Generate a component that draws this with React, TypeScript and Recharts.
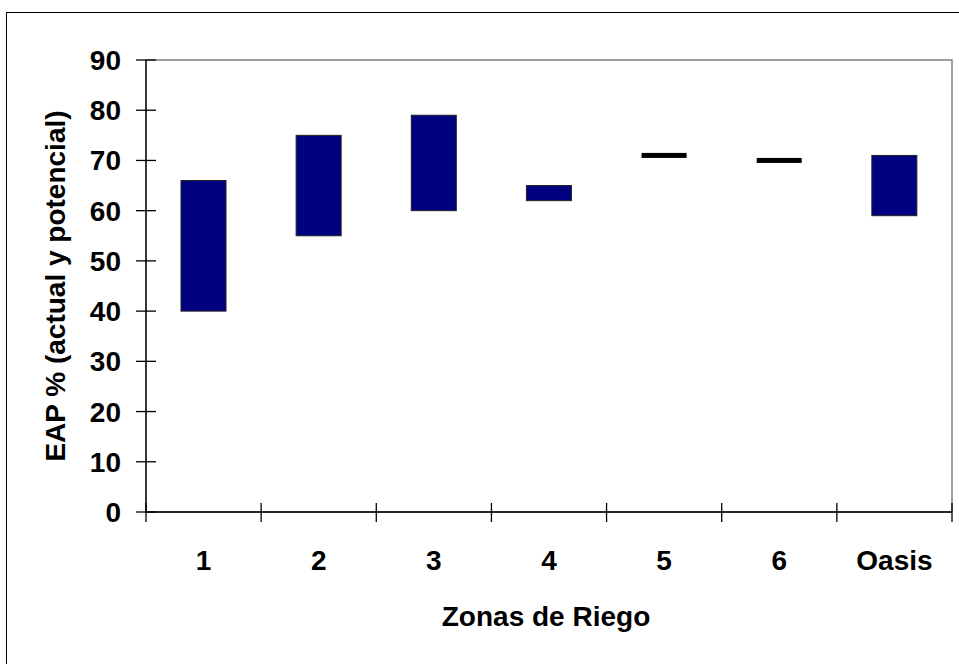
import { BarChart, Bar, XAxis, YAxis, ReferenceArea, Label } from "recharts";

const zonas = ["1", "2", "3", "4", "5", "6", "Oasis"];
const eapActual = [40, 55, 60, 62, 71, 70, 59];
const eapPotencial = [66, 75, 79, 65, 71, 70, 71];
const yTicks = [0, 10, 20, 30, 40, 50, 60, 70, 80, 90];

const chartData = zonas.map((zona, i) => ({
    zona,
    rango: [eapActual[i], eapPotencial[i]],
}));

const FONT = "'Liberation Sans', Arial, sans-serif";
const PLOT_LEFT = 146;
const PLOT_RIGHT = 952;
const PLOT_TOP = 60;
const PLOT_BOTTOM = 512;
const BAND = (PLOT_RIGHT - PLOT_LEFT) / zonas.length;

function YTick(props: any) {
    const { x, y, payload } = props;
    return (
        <g>
            <line x1={x - 10} x2={x + 10} y1={y} y2={y} stroke="#000" strokeWidth={1.3} />
            <text
                x={x - 25}
                y={y + 10}
                textAnchor="end"
                fontFamily={FONT}
                fontWeight="bold"
                fontSize={28}
                fill="#000"
            >
                {payload.value}
            </text>
        </g>
    );
}

function XTick(props: any) {
    const { x, y, payload, index } = props;
    const left = x - BAND / 2;
    const right = x + BAND / 2;
    return (
        <g>
            <line x1={left} x2={left} y1={y - 9} y2={y + 10} stroke="#000" strokeWidth={1.3} />
            {index === zonas.length - 1 && (
                <line x1={right} x2={right} y1={y - 9} y2={y + 10} stroke="#000" strokeWidth={1.3} />
            )}
            <text
                x={x}
                y={y + 58}
                textAnchor="middle"
                fontFamily={FONT}
                fontWeight="bold"
                fontSize={28}
                fill="#000"
            >
                {payload.value}
            </text>
        </g>
    );
}

function RangeBar(props: any) {
    const { x, y, width, height } = props;
    if (Math.abs(height) < 3) {
        return <rect x={x} y={y - 2.5} width={width} height={5} fill="#000" />;
    }
    return (
        <rect
            x={x}
            y={Math.min(y, y + height)}
            width={width}
            height={Math.abs(height)}
            fill="#000080"
            stroke="#222"
            strokeWidth={1}
        />
    );
}

export default function App() {
    return (
        <div
            style={{
                position: "absolute",
                top: 0,
                left: 0,
                width: 959,
                height: 664,
                overflow: "hidden",
                background: "#fff",
            }}
        >
            <div
                style={{
                    position: "absolute",
                    left: 6,
                    top: 12,
                    width: 1000,
                    height: 700,
                    border: "1.5px solid #000",
                }}
            />
            <div style={{ position: "absolute", top: 0, left: 0 }}>
                <BarChart
                    width={959}
                    height={664}
                    data={chartData}
                    margin={{
                        top: PLOT_TOP,
                        right: 959 - PLOT_RIGHT,
                        bottom: 0,
                        left: 0,
                    }}
                >
                    <ReferenceArea
                        x1="1"
                        x2="Oasis"
                        y1={0}
                        y2={90}
                        fill="none"
                        stroke="#808080"
                        strokeWidth={1.5}
                        ifOverflow="visible"
                    />
                    <XAxis
                        dataKey="zona"
                        height={664 - PLOT_BOTTOM}
                        tickSize={0}
                        tickMargin={0}
                        tick={<XTick />}
                        axisLine={{ stroke: "#000", strokeWidth: 1.3 }}
                        interval={0}
                    >
                        <Label
                            content={() => (
                                <text
                                    x={546}
                                    y={626}
                                    textAnchor="middle"
                                    fontFamily={FONT}
                                    fontWeight="bold"
                                    fontSize={28}
                                    fill="#000"
                                >
                                    Zonas de Riego
                                </text>
                            )}
                        />
                    </XAxis>
                    <YAxis
                        width={PLOT_LEFT}
                        domain={[0, 90]}
                        ticks={yTicks}
                        tickSize={0}
                        tickMargin={0}
                        tick={<YTick />}
                        axisLine={{ stroke: "#000", strokeWidth: 1.3 }}
                        interval={0}
                    >
                        <Label
                            content={() => (
                                <text
                                    x={65}
                                    y={286}
                                    transform="rotate(-90, 65, 286)"
                                    textAnchor="middle"
                                    fontFamily={FONT}
                                    fontWeight="bold"
                                    fontSize={28}
                                    fill="#000"
                                >
                                    EAP % (actual y potencial)
                                </text>
                            )}
                        />
                    </YAxis>
                    <Bar
                        dataKey="rango"
                        barSize={45}
                        shape={<RangeBar />}
                        isAnimationActive={false}
                    />
                </BarChart>
            </div>
        </div>
    );
}
